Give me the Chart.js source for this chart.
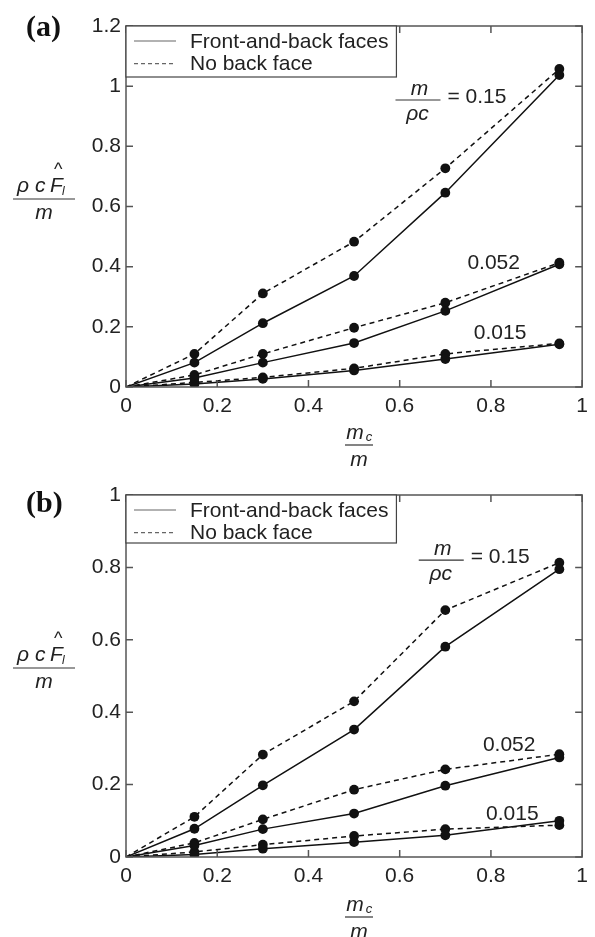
<!DOCTYPE html>
<html>
<head>
<meta charset="utf-8">
<script src="https://cdn.jsdelivr.net/npm/chart.js@4.4.1/dist/chart.umd.min.js"></script>
<style>
  body { margin: 0; background: #fff; }
  canvas { display: block; }
</style>
</head>
<body>
<canvas id="chartA" width="595" height="468"></canvas>
<canvas id="chartB" width="595" height="469"></canvas>
<script>
// m_c / m values (x axis)
const massRatio = [0, 0.15, 0.3, 0.5, 0.7, 0.95];
const xTicks = [0, 0.2, 0.4, 0.6, 0.8, 1];
const yTicksA = [0, 0.2, 0.4, 0.6, 0.8, 1, 1.2];
const yTicksB = [0, 0.2, 0.4, 0.6, 0.8, 1];
const legendLabels = ['Front-and-back faces', 'No back face'];
const ratioLabels = ['= 0.15', '0.052', '0.015'];

// panel (a)
const a15Front = [0, 0.081, 0.212, 0.369, 0.646, 1.037];
const a15NoBack = [0, 0.110, 0.311, 0.483, 0.727, 1.057];
const a052Front = [0, 0.030, 0.081, 0.146, 0.253, 0.408];
const a052NoBack = [0, 0.040, 0.110, 0.197, 0.280, 0.413];
const a015Front = [0, 0.010, 0.027, 0.055, 0.093, 0.142];
const a015NoBack = [0, 0.015, 0.032, 0.062, 0.110, 0.145];

// panel (b)
const b15Front = [0, 0.078, 0.198, 0.352, 0.581, 0.795];
const b15NoBack = [0, 0.111, 0.283, 0.430, 0.682, 0.813];
const b052Front = [0, 0.032, 0.077, 0.120, 0.197, 0.275];
const b052NoBack = [0, 0.039, 0.104, 0.186, 0.242, 0.284];
const b015Front = [0, 0.007, 0.023, 0.041, 0.060, 0.100];
const b015NoBack = [0, 0.014, 0.034, 0.058, 0.077, 0.088];

const FONT = '"Liberation Sans", Arial, sans-serif';

function series(values, dashed) {
  return {
    data: massRatio.map((x, i) => ({ x: x, y: values[i] })),
    borderColor: '#111',
    backgroundColor: '#111',
    borderWidth: 1.5,
    borderDash: dashed ? [5, 4] : [],
    pointRadius: massRatio.map((x) => (x === 0 ? 0 : 4.9)),
    pointBorderWidth: 0,
    tension: 0,
  };
}

const decorPlugin = {
  id: 'figDecor',
  afterDraw(chart, args, o) {
    const ctx = chart.ctx;
    const a = chart.chartArea;
    const xs = chart.scales.x;
    const ys = chart.scales.y;
    ctx.save();

    // box + inward ticks
    ctx.strokeStyle = '#555';
    ctx.lineWidth = 1.5;
    ctx.strokeRect(a.left, a.top, a.right - a.left, a.bottom - a.top);
    ctx.beginPath();
    xTicks.forEach((v) => {
      const px = xs.getPixelForValue(v);
      ctx.moveTo(px, a.bottom); ctx.lineTo(px, a.bottom - 7);
      ctx.moveTo(px, a.top); ctx.lineTo(px, a.top + 7);
    });
    o.yTicks.forEach((v) => {
      const py = ys.getPixelForValue(v);
      ctx.moveTo(a.left, py); ctx.lineTo(a.left + 7, py);
      ctx.moveTo(a.right, py); ctx.lineTo(a.right - 7, py);
    });
    ctx.stroke();

    // legend
    ctx.font = '21px ' + FONT;
    const textX = a.left + 64;
    const w = Math.max(...legendLabels.map((t) => ctx.measureText(t).width));
    ctx.fillStyle = '#fff';
    ctx.fillRect(a.left, a.top, textX + w + 8 - a.left, o.legendH);
    ctx.lineWidth = 1.2;
    ctx.strokeStyle = '#444';
    ctx.strokeRect(a.left, a.top, textX + w + 8 - a.left, o.legendH);
    ctx.strokeStyle = '#666';
    legendLabels.forEach((t, i) => {
      const yy = a.top + 15 + i * 22.6;
      ctx.setLineDash(i === 0 ? [] : [4, 3]);
      ctx.beginPath();
      ctx.moveTo(a.left + 8, yy); ctx.lineTo(a.left + 50, yy);
      ctx.stroke();
      ctx.fillStyle = '#222';
      ctx.textBaseline = 'middle';
      ctx.textAlign = 'left';
      ctx.fillText(t, textX, yy + 1);
    });
    ctx.setLineDash([]);

    // curve labels
    ctx.fillStyle = '#222';
    ctx.strokeStyle = '#333';
    ctx.lineWidth = 1.2;
    o.notes.forEach((n, i) => {
      const px = xs.getPixelForValue(n.x);
      const py = ys.getPixelForValue(n.y);
      if (i === 0) {
        ctx.beginPath();
        ctx.moveTo(px - 22, py); ctx.lineTo(px + 23, py);
        ctx.stroke();
        ctx.textAlign = 'center';
        ctx.font = 'italic 21px ' + FONT;
        ctx.fillText('m', px + 2, py - 11);
        ctx.fillText('\u03c1c', px, py + 14);
        ctx.textAlign = 'left';
        ctx.font = '21px ' + FONT;
        ctx.fillText(ratioLabels[0], px + 30, py - 3);
      } else {
        ctx.textAlign = 'center';
        ctx.font = '21px ' + FONT;
        ctx.fillText(ratioLabels[i], px, py);
      }
    });

    // y title: rho c F-hat_l / m
    const ty = a.top + 173;
    ctx.textAlign = 'left';
    ctx.textBaseline = 'alphabetic';
    ctx.font = 'italic 21px ' + FONT;
    ctx.fillText('\u03c1', 17, ty - 7);
    ctx.fillText('c', 35, ty - 7);
    ctx.fillText('F', 50, ty - 7);
    ctx.font = 'italic 12px ' + FONT;
    ctx.fillText('l', 62, ty - 4);
    ctx.font = '18px ' + FONT;
    ctx.fillText('^', 54, ty - 24);
    ctx.beginPath();
    ctx.moveTo(13, ty); ctx.lineTo(75, ty);
    ctx.stroke();
    ctx.textAlign = 'center';
    ctx.textBaseline = 'middle';
    ctx.font = 'italic 21px ' + FONT;
    ctx.fillText('m', 44, ty + 14);

    // x title: m_c / m
    const lx = 359;
    const ly = a.bottom + o.xTitleDy;
    ctx.textBaseline = 'alphabetic';
    ctx.textAlign = 'center';
    ctx.fillText('m', lx - 4, ly - 6);
    ctx.font = 'italic 13px ' + FONT;
    ctx.fillText('c', lx + 10, ly - 4);
    ctx.beginPath();
    ctx.moveTo(lx - 14, ly); ctx.lineTo(lx + 14, ly);
    ctx.stroke();
    ctx.font = 'italic 21px ' + FONT;
    ctx.textBaseline = 'middle';
    ctx.fillText('m', lx, ly + 15);

    // panel letter
    ctx.font = 'bold 30px "Liberation Serif", "Times New Roman", serif';
    ctx.fillStyle = '#111';
    ctx.textAlign = 'left';
    ctx.textBaseline = 'middle';
    ctx.fillText(o.letter, 26, o.letterY);
    ctx.restore();
  },
};

function makePanel(id, sets, yMax, yTicks, topPad, xHeight, decor) {
  return new Chart(document.getElementById(id), {
    type: 'line',
    data: {
      datasets: [
        series(sets[0], false), series(sets[1], true),
        series(sets[2], false), series(sets[3], true),
        series(sets[4], false), series(sets[5], true),
      ],
    },
    plugins: [decorPlugin],
    options: {
      responsive: false,
      animation: false,
      events: [],
      layout: { padding: { top: topPad, right: 6, left: 0, bottom: 0 } },
      scales: {
        x: {
          type: 'linear',
          min: 0,
          max: 1,
          afterBuildTicks: (s) => { s.ticks = xTicks.map((v) => ({ value: v })); },
          afterFit: (s) => { s.height = xHeight; },
          grid: { display: false, drawTicks: false },
          border: { display: false },
          ticks: {
            padding: 7,
            color: '#222',
            font: { family: FONT, size: 21 },
            callback: (v) => String(Number(v.toFixed(2))),
          },
        },
        y: {
          min: 0,
          max: yMax,
          afterBuildTicks: (s) => { s.ticks = yTicks.map((v) => ({ value: v })); },
          afterFit: (s) => { s.width = 126; },
          grid: { display: false, drawTicks: false },
          border: { display: false },
          ticks: {
            padding: 5,
            color: '#222',
            font: { family: FONT, size: 21 },
            callback: (v) => String(Number(v.toFixed(2))),
          },
        },
      },
      plugins: {
        legend: { display: false },
        tooltip: { enabled: false },
        figDecor: decor,
      },
    },
  });
}

makePanel('chartA', [a15Front, a15NoBack, a052Front, a052NoBack, a015Front, a015NoBack],
  1.2, yTicksA, 26, 81, {
    yTicks: yTicksA,
    legendH: 51,
    letter: '(a)',
    letterY: 28,
    xTitleDy: 58,
    notes: [{ x: 0.639, y: 0.954 }, { x: 0.806, y: 0.412 }, { x: 0.82, y: 0.18 }],
  });

makePanel('chartB', [b15Front, b15NoBack, b052Front, b052NoBack, b015Front, b015NoBack],
  1, yTicksB, 27, 80, {
    yTicks: yTicksB,
    legendH: 48,
    letter: '(b)',
    letterY: 36,
    xTitleDy: 60,
    notes: [{ x: 0.69, y: 0.82 }, { x: 0.84, y: 0.309 }, { x: 0.847, y: 0.118 }],
  });
</script>
</body>
</html>
